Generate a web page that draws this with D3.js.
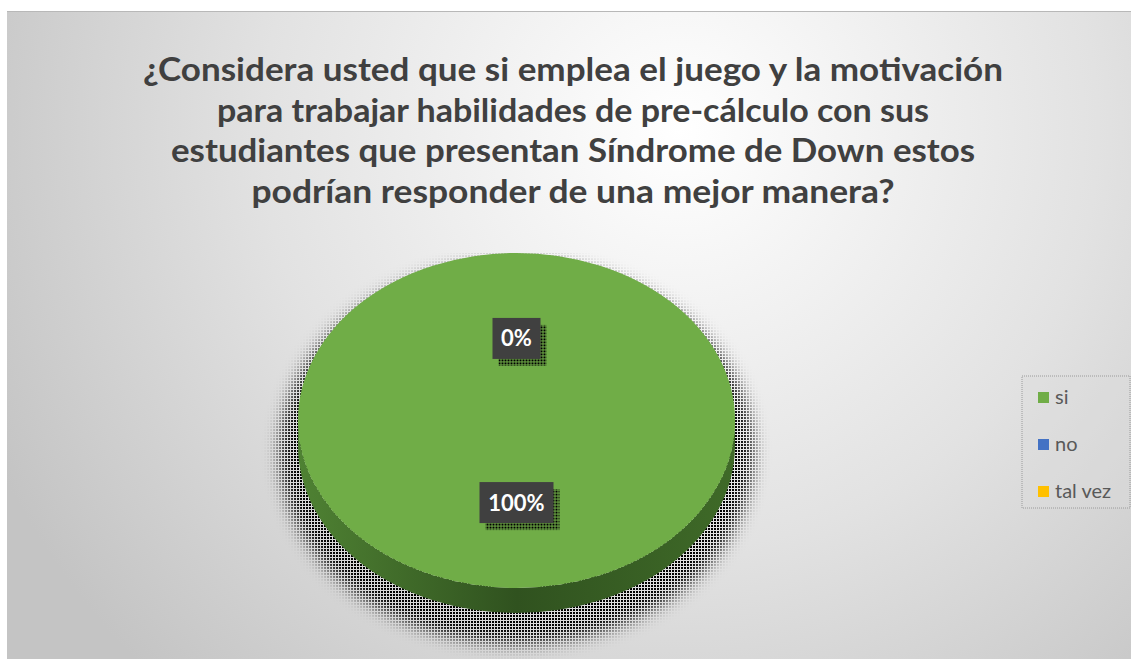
<!DOCTYPE html>
<html>
<head>
<meta charset="utf-8">
<script src="https://cdn.jsdelivr.net/npm/d3@7"></script>
<style>
  body { margin: 0; background: #fff; }
  svg { display: block; }
</style>
</head>
<body>
<svg width="1131" height="659"></svg>
<script>
// survey answers
const categories = ["si", "no", "tal vez"];
const values = [100, 0, 0];
const colors = ["#70ad47", "#4472c4", "#ffc000"];
const titleLines = [
  "¿Considera usted que si emplea el juego y la motivación",
  "para trabajar habilidades de pre-cálculo con sus",
  "estudiantes que presentan Síndrome de Down estos",
  "podrían responder de una mejor manera?"
];

const svg = d3.select("svg");
const defs = svg.append("defs");

// chart area background
const bg = defs.append("radialGradient").attr("id", "bg")
  .attr("gradientUnits", "userSpaceOnUse")
  .attr("cx", 680).attr("cy", 130).attr("r", 760);
bg.append("stop").attr("offset", "0").attr("stop-color", "#ffffff");
bg.append("stop").attr("offset", "0.55").attr("stop-color", "#e2e2e2");
bg.append("stop").attr("offset", "1").attr("stop-color", "#c4c4c4");

svg.append("rect").attr("x", 7).attr("y", 11).attr("width", 1124).attr("height", 648)
  .attr("fill", "url(#bg)");
svg.append("line").attr("x1", 7).attr("x2", 1131).attr("y1", 11.5).attr("y2", 11.5)
  .attr("stroke", "#b8b8b8");

// title (widths stretched like the original)
const titleWidths = [860, 712, 804, 643];
svg.append("g").selectAll("text").data(titleLines).join("text")
  .attr("x", 573).attr("y", (d, i) => 81 + i * 40.7)
  .attr("text-anchor", "middle")
  .attr("font-family", "Lato, 'Noto Sans', sans-serif")
  .attr("font-weight", "bold").attr("font-size", 33)
  .attr("fill", "#404040")
  .attr("textLength", (d, i) => titleWidths[i])
  .attr("lengthAdjust", "spacingAndGlyphs")
  .text(d => d);

// stipple pattern used for shadows
const dots = defs.append("pattern").attr("id", "dots")
  .attr("patternUnits", "userSpaceOnUse").attr("width", 3).attr("height", 3);
dots.append("rect").attr("width", 2).attr("height", 2).attr("fill", "#000");

const cx = 516.5, cy = 420.5, rx = 218.5, ry = 167.5, depth = 25;

// pie shadow
const blur = defs.append("filter").attr("id", "blur")
  .attr("x", "-20%").attr("y", "-20%").attr("width", "140%").attr("height", "140%");
blur.append("feGaussianBlur").attr("stdDeviation", 8);
const mask = defs.append("mask").attr("id", "shadowMask");
mask.append("ellipse").attr("cx", cx).attr("cy", cy + 32).attr("rx", rx + 18).attr("ry", ry + 24)
  .attr("fill", "#fff").attr("filter", "url(#blur)");
svg.append("rect").attr("x", cx - rx - 60).attr("y", cy - ry).attr("width", 2 * rx + 120)
  .attr("height", 2 * ry + 120).attr("fill", "url(#dots)").attr("mask", "url(#shadowMask)");

// pie side
const side = defs.append("linearGradient").attr("id", "side")
  .attr("x1", 0).attr("x2", 1).attr("y1", 0).attr("y2", 0);
side.append("stop").attr("offset", "0").attr("stop-color", "#4f8233");
side.append("stop").attr("offset", "0.5").attr("stop-color", "#30521f");
side.append("stop").attr("offset", "1").attr("stop-color", "#3f6a28");
svg.append("path")
  .attr("d", `M${cx - rx},${cy} A${rx},${ry} 0 0 0 ${cx + rx},${cy} L${cx + rx},${cy + depth}
    A${rx},${ry} 0 0 1 ${cx - rx},${cy + depth} Z`)
  .attr("fill", "url(#side)");

// pie top face
const pie = d3.pie().sort(null).value(d => d.value);
const arcs = pie(categories.map((c, i) => ({ name: c, value: values[i], color: colors[i] })));
const arc = d3.arc().innerRadius(0).outerRadius(rx);
const labelArc = d3.arc().innerRadius(0).outerRadius(rx * 0.98);

svg.append("g")
  .attr("transform", `translate(${cx},${cy}) scale(1,${ry / rx})`)
  .selectAll("path").data(arcs).join("path")
  .attr("d", arc)
  .attr("fill", d => d.data.color);

// data labels
const labels = svg.append("g").selectAll("g").data(arcs.filter((d, i) => i < 2)).join("g")
  .attr("transform", d => {
    const [x, y] = labelArc.centroid(d);
    return `translate(${cx + x},${cy + y * ry / rx})`;
  });
labels.each(function(d) {
  const g = d3.select(this);
  const t = d.data.value + "%";
  const w = t.length * 13 + 22, h = 41;
  g.append("rect").attr("x", -w / 2 + 6).attr("y", -h / 2 + 7).attr("width", w).attr("height", h)
    .attr("fill", "url(#dots)");
  g.append("rect").attr("x", -w / 2).attr("y", -h / 2).attr("width", w).attr("height", h)
    .attr("fill", "#404040");
  g.append("text").attr("text-anchor", "middle").attr("y", 8)
    .attr("font-family", "Lato, 'Noto Sans', sans-serif").attr("font-weight", "bold")
    .attr("font-size", 22).attr("fill", "#fff").text(t);
});

// legend
const lg = svg.append("g").attr("transform", "translate(1022,376)");
lg.append("rect").attr("width", 108).attr("height", 132)
  .attr("fill", "#dcdcdc").attr("fill-opacity", 0.35)
  .attr("stroke", "#9a9a9a").attr("stroke-dasharray", "1,1");
const item = lg.selectAll("g").data(categories).join("g")
  .attr("transform", (d, i) => `translate(16,${16 + i * 47})`);
item.append("rect").attr("width", 11).attr("height", 11).attr("fill", (d, i) => colors[i]);
item.append("text").attr("x", 17).attr("y", 12)
  .attr("font-family", "Lato, 'Noto Sans', sans-serif").attr("font-size", 20)
  .attr("fill", "#595959").text(d => d);
</script>
</body>
</html>
